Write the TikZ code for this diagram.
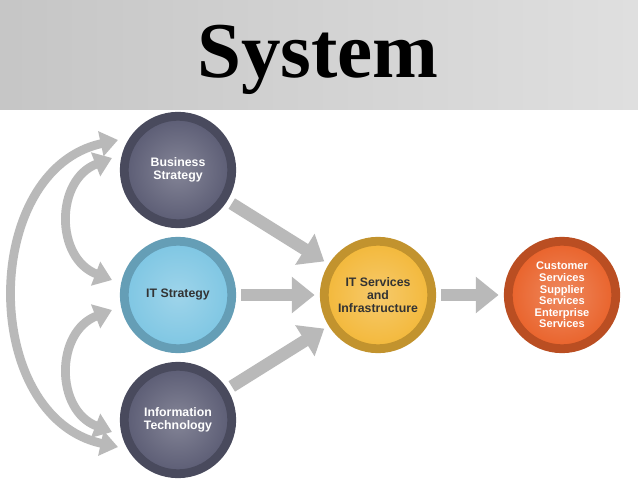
\documentclass[tikz,border=0pt]{standalone}
\usepackage{fontspec}
\newfontfamily\titlefont{Liberation Serif}
\newfontfamily\labelfont{Liberation Sans}
\usetikzlibrary{arrows.meta}
\definecolor{slate}{HTML}{5B5C74}
\definecolor{skyb}{HTML}{7EC6E3}
\definecolor{gold}{HTML}{F3B83A}
\definecolor{orng}{HTML}{E9622A}
\tikzset{
  disc/.style={circle,minimum size=2.15cm,inner sep=1pt,draw=#1!80!black,line width=5pt,
    inner color=#1!75!white,outer color=#1,font=\labelfont\bfseries\fontsize{7}{7.6}\selectfont,align=center,text=white},
  flow/.style={draw=gray!55,line width=7pt,-{Triangle[length=13pt,width=20pt]},shorten >=3pt,shorten <=3pt},
  loop/.style={draw=gray!55,line width=5pt,{Triangle[length=10pt,width=14pt]}-{Triangle[length=10pt,width=14pt]}}
}
\begin{document}
\begin{tikzpicture}[x=0.02cm,y=-0.02cm]
\useasboundingbox (0,0) rectangle (638,479);
\fill[white] (0,0) rectangle (638,479);
\shade[left color=gray!45,right color=gray!25] (0,0) rectangle (638,110);
\node[font=\titlefont\fontsize{45}{50}\selectfont\bfseries] (title) at (318,60) {System};
%circles
\node[disc=slate] (bus) at (178,170) {Business\\Strategy};
\node[disc=skyb,text=black!80] (its) at (178,295) {IT Strategy};
\node[disc=slate] (inf) at (178,420) {Information\\Technology};
\node[disc=gold,text=black!80] (srv) at (378,295) {IT Services\\and\\Infrastructure};
\node[disc=orng,font=\labelfont\bfseries\fontsize{6.3}{6.6}\selectfont] (cus) at (562,295) {Customer\\Services\\Supplier\\Services\\Enterprise\\Services};
%arrows
\draw[flow] (bus) -- (srv);
\draw[flow] (its) -- (srv);
\draw[flow] (inf) -- (srv);
\draw[flow] (srv) -- (cus);
\coordinate (a1) at (118,140);
\coordinate (a2) at (118,447);
\coordinate (b1) at (112,158);
\coordinate (b2) at (112,280);
\coordinate (c1) at (112,310);
\coordinate (c2) at (112,432);
\draw[loop] (a1) .. controls (-20,170) and (-20,417) .. (a2);
\draw[loop] (b1) .. controls (55,180) and (55,258) .. (b2);
\draw[loop] (c1) .. controls (55,332) and (55,410) .. (c2);
\end{tikzpicture}
\end{document}
